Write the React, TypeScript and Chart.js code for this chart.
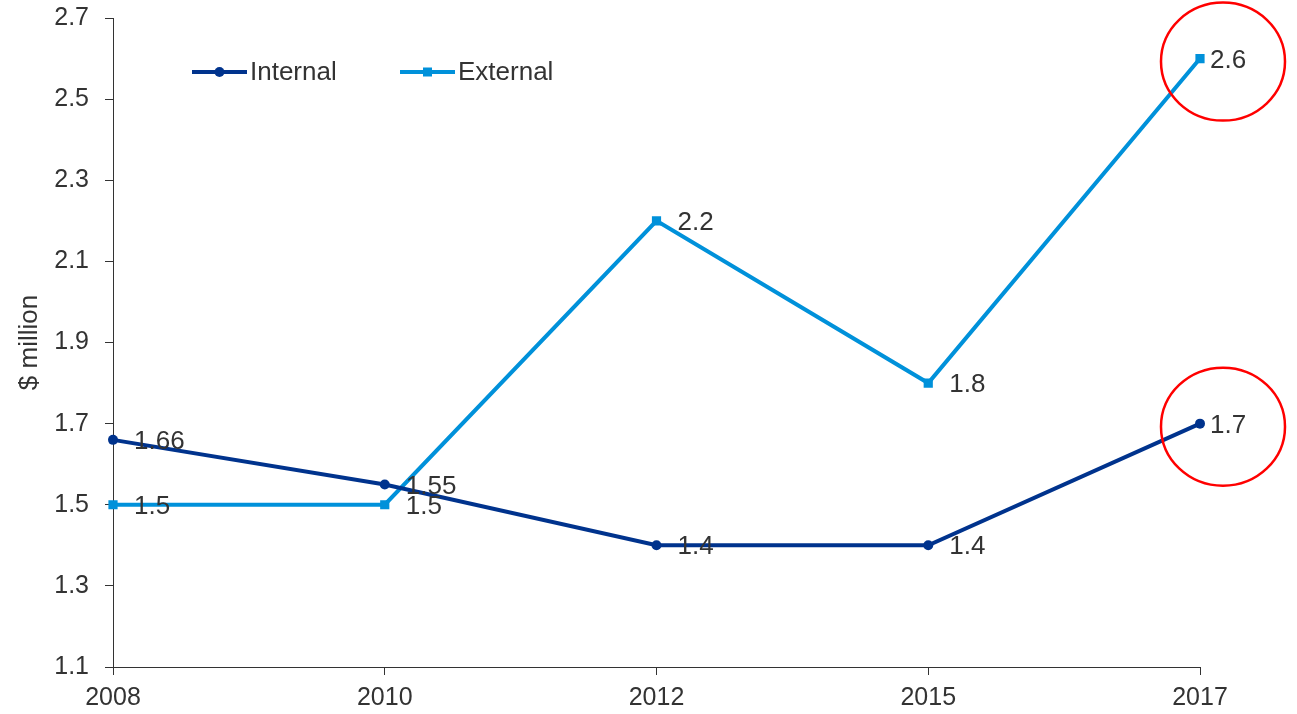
import React, { useEffect, useRef } from 'react';
import { Chart, registerables } from 'chart.js';

Chart.register(...registerables);

const years = ['2008', '2010', '2012', '2015', '2017'];
const internalValues = [1.66, 1.55, 1.4, 1.4, 1.7];
const externalValues = [1.5, 1.5, 2.2, 1.8, 2.6];
const seriesNames = ['Internal', 'External'];
const yTickValues = [1.1, 1.3, 1.5, 1.7, 1.9, 2.1, 2.3, 2.5, 2.7];
const yAxisTitle = '$ million';
const circledIndex = 4;

const FONT = "'Liberation Sans', Arial, sans-serif";
const TEXT = '#333333';
const INTERNAL_COLOR = '#00338D';
const EXTERNAL_COLOR = '#0091DA';

const labelsPlugin = {
  id: 'pointLabels',
  afterDatasetsDraw(chart: any) {
    const ctx = chart.ctx;
    ctx.save();
    ctx.font = `26px ${FONT}`;
    ctx.fillStyle = TEXT;
    ctx.textAlign = 'left';
    ctx.textBaseline = 'middle';
    chart.data.datasets.forEach((ds: any, di: number) => {
      const meta = chart.getDatasetMeta(di);
      meta.data.forEach((el: any, i: number) => {
        const dx = i === ds.data.length - 1 ? 10 : 21;
        ctx.fillText(String(ds.data[i]), el.x + dx, el.y + 2);
      });
    });
    ctx.restore();
  },
  afterDraw(chart: any) {
    const ctx = chart.ctx;
    ctx.save();
    // highlight circles
    ctx.strokeStyle = '#FF0000';
    ctx.lineWidth = 2.5;
    chart.data.datasets.forEach((_ds: any, di: number) => {
      const el = chart.getDatasetMeta(di).data[circledIndex];
      if (!el) return;
      ctx.beginPath();
      ctx.ellipse(el.x + 23, el.y + 3, 62, 59, 0, 0, Math.PI * 2);
      ctx.stroke();
    });
    // legend
    const starts = [192, 400];
    const ly = 72;
    chart.data.datasets.forEach((ds: any, di: number) => {
      const x0 = starts[di];
      ctx.strokeStyle = ds.borderColor;
      ctx.lineWidth = 4;
      ctx.beginPath();
      ctx.moveTo(x0, ly);
      ctx.lineTo(x0 + 55, ly);
      ctx.stroke();
      ctx.fillStyle = ds.borderColor;
      ctx.beginPath();
      if (ds.pointStyle === 'rect') {
        ctx.rect(x0 + 27.5 - 4.5, ly - 4.5, 9, 9);
      } else {
        ctx.arc(x0 + 27.5, ly, 5, 0, Math.PI * 2);
      }
      ctx.fill();
      ctx.fillStyle = TEXT;
      ctx.font = `26px ${FONT}`;
      ctx.textAlign = 'left';
      ctx.textBaseline = 'middle';
      ctx.fillText(ds.label, x0 + 58, ly + 1);
    });
    ctx.restore();
  },
};

export default function App() {
  const ref = useRef<HTMLCanvasElement>(null);
  useEffect(() => {
    if (!ref.current) return;
    const chart = new Chart(ref.current, {
      type: 'line',
      data: {
        labels: years,
        datasets: [
          {
            label: seriesNames[0],
            data: internalValues,
            borderColor: INTERNAL_COLOR,
            backgroundColor: INTERNAL_COLOR,
            borderWidth: 4,
            pointStyle: 'circle',
            pointRadius: 5,
            pointBorderWidth: 0,
            tension: 0,
          },
          {
            label: seriesNames[1],
            data: externalValues,
            borderColor: EXTERNAL_COLOR,
            backgroundColor: EXTERNAL_COLOR,
            borderWidth: 4,
            pointStyle: 'rect',
            pointRadius: 6.5,
            pointBorderWidth: 0,
            tension: 0,
          },
        ],
      },
      options: {
        responsive: false,
        animation: false,
        layout: { padding: { top: 18, right: 97, left: 0, bottom: 0 } },
        plugins: {
          legend: { display: false },
          tooltip: { enabled: false },
        },
        scales: {
          x: {
            type: 'category',
            offset: false,
            grid: { display: true, drawOnChartArea: false, drawTicks: true, tickLength: 8, color: TEXT },
            border: { display: true, color: TEXT, width: 1 },
            ticks: { color: TEXT, font: { size: 25, family: FONT }, padding: 8, maxRotation: 0, autoSkip: false },
            afterFit: (s: any) => {
              s.height = 47;
              s.paddingLeft = 0;
              s.paddingRight = 0;
            },
          },
          y: {
            type: 'linear',
            min: 1.1,
            max: 2.7,
            afterBuildTicks: (s: any) => { s.ticks = yTickValues.map((v) => ({ value: v })); },
            grid: { display: true, drawOnChartArea: false, drawTicks: true, tickLength: 8, color: TEXT },
            border: { display: true, color: TEXT, width: 1 },
            ticks: {
              color: TEXT,
              font: { size: 25, family: FONT },
              padding: 16,
              callback: (v: any) => Number(v).toFixed(1),
            },
            title: {
              display: true,
              text: yAxisTitle,
              color: TEXT,
              font: { size: 26, family: FONT },
              padding: { top: 14, bottom: 0 },
            },
            afterFit: (s: any) => {
              s.width = 113;
              s.paddingTop = 0;
              s.paddingBottom = 0;
            },
          },
        },
      },
      plugins: [labelsPlugin],
    });
    return () => chart.destroy();
  }, []);
  return (
    <div style={{ position: 'absolute', left: 0, top: 0, width: 1297, height: 714 }}>
      <canvas ref={ref} width={1297} height={714} style={{ display: 'block' }} />
    </div>
  );
}
